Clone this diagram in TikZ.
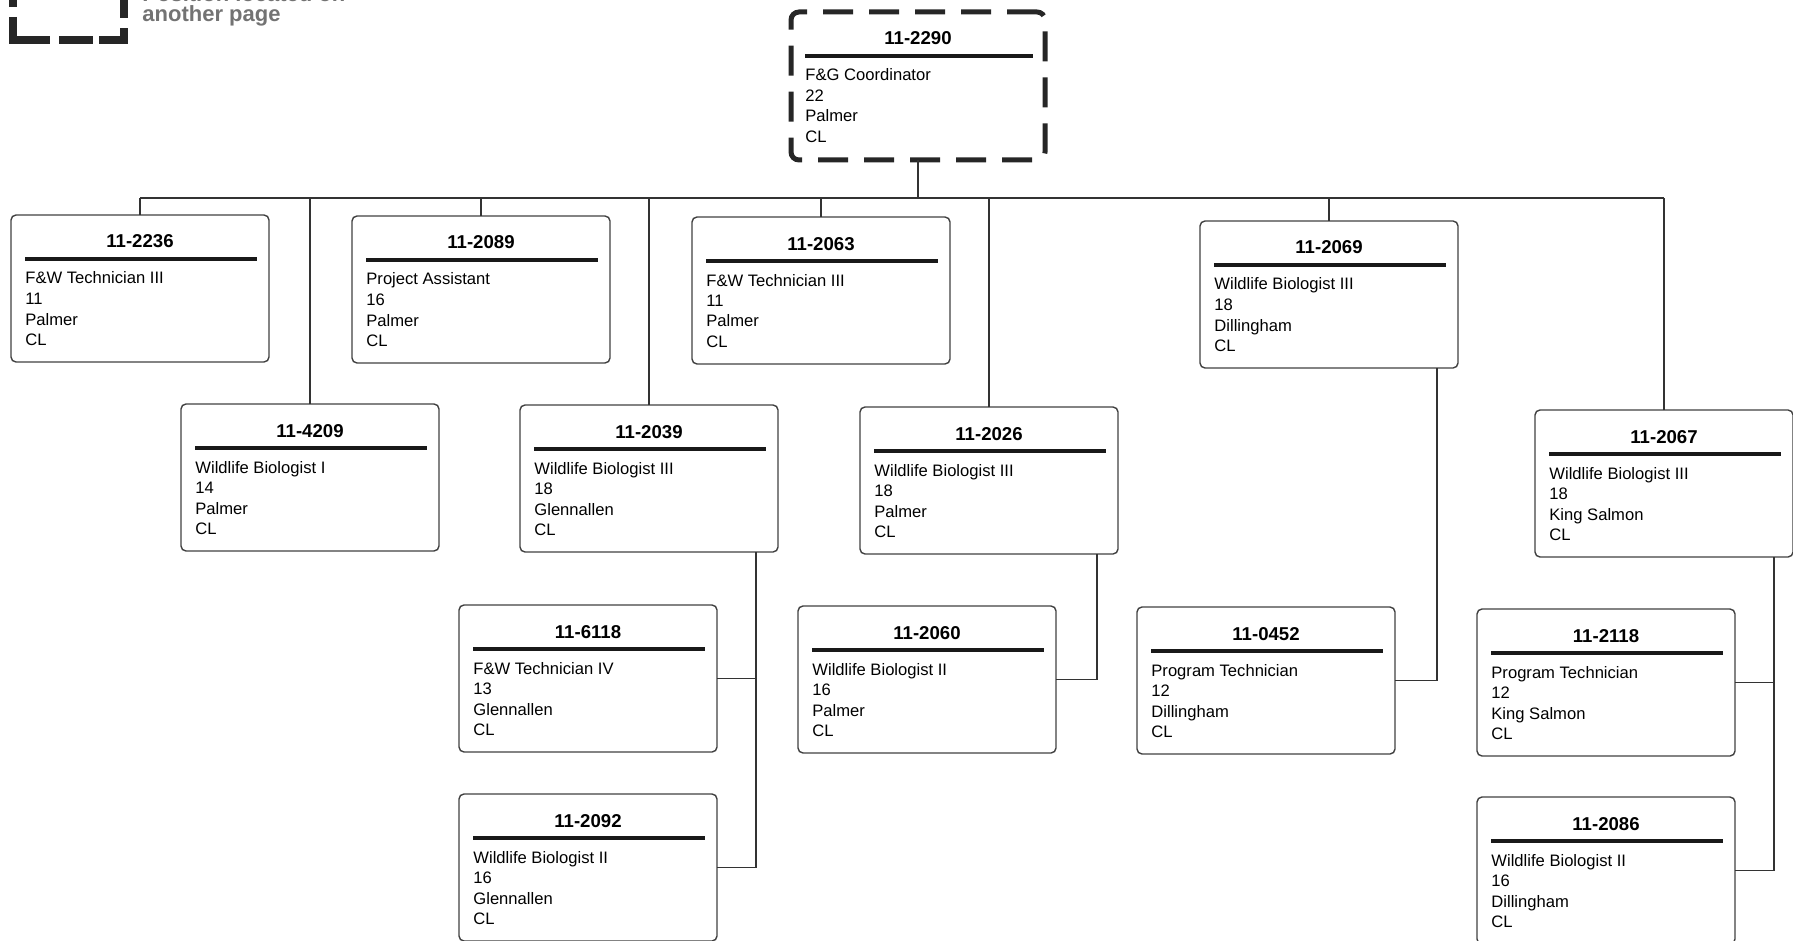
\documentclass[tikz,border=0pt]{standalone}
\usepackage{fontspec}
\setmainfont{Liberation Sans}
\usetikzlibrary{calc}

\tikzset{
  posbox/.style={draw=black!75, line width=0.7pt, rounded corners=2.5pt,
    minimum width=129pt, minimum height=73.5pt, inner sep=0pt, outer sep=0pt,
    anchor=north west},
  headbox/.style={posbox, draw=black!85, line width=2.5pt, rounded corners=4pt,
    dash pattern=on 15pt off 8pt, minimum width=127pt, minimum height=74pt},
  posnum/.style={anchor=base, inner sep=0pt, font=\fontsize{9.3}{11}\selectfont\bfseries},
  postxt/.style={anchor=base west, inner sep=0pt, font=\fontsize{8.3}{10}\selectfont},
  posrule/.style={line width=1.75pt, black!90},
  link/.style={line width=0.75pt, black!80},
  legendbox/.style={line width=4pt, black!85},
  legendtxt/.style={anchor=base west, inner sep=0pt, text=black!55,
    font=\fontsize{11}{13}\selectfont\bfseries}
}

% one position: [frame style] name, left, top, number, title, range, location
\newcommand{\jobpos}[8][posbox]{%
  \node[#1] (#2) at (#3,#4) {};
  \node[posnum] at ($(#2.north)+(0,33)$) {#5};
  \draw[posrule] ($(#2.north west)+(14,44)$) -- ($(#2.north east)+(-12,44)$);
  \node[postxt] at ($(#2.north west)+(14,69)$) {#6};
  \node[postxt] at ($(#2.north west)+(14,89.5)$) {#7};
  \node[postxt] at ($(#2.north west)+(14,110)$) {#8};
  \node[postxt] at ($(#2.north west)+(14,130.5)$) {CL};
}

\begin{document}
\begin{tikzpicture}[x=0.5pt,y=-0.5pt]
  \useasboundingbox (0,0) rectangle (1793,941);
  \clip (0,0) rectangle (1793,941);

  % legend (cut off by the page top)
  \draw[legendbox] (13,-10) -- (13,7) (13,17) -- (13,40) -- (50,40)
    (59,40) -- (93,40) (99,40) -- (124,40) -- (124,28) (124,-10) -- (124,18);
  \node[legendtxt] at (142,2) {Position located on};
  \node[legendtxt] at (142,22) {another page};

  \jobpos[headbox]{p2290}{791}{12}{11-2290}{F\&G Coordinator}{22}{Palmer}

  % first level
  \jobpos{p2236}{11}{215}{11-2236}{F\&W Technician III}{11}{Palmer}
  \jobpos{p2089}{352}{216}{11-2089}{Project Assistant}{16}{Palmer}
  \jobpos{p2063}{692}{217}{11-2063}{F\&W Technician III}{11}{Palmer}
  \jobpos{p2069}{1200}{221}{11-2069}{Wildlife Biologist III}{18}{Dillingham}
  \jobpos{p4209}{181}{404}{11-4209}{Wildlife Biologist I}{14}{Palmer}
  \jobpos{p2039}{520}{405}{11-2039}{Wildlife Biologist III}{18}{Glennallen}
  \jobpos{p2026}{860}{407}{11-2026}{Wildlife Biologist III}{18}{Palmer}
  \jobpos{p2067}{1535}{410}{11-2067}{Wildlife Biologist III}{18}{King Salmon}

  % second level
  \jobpos{p6118}{459}{605}{11-6118}{F\&W Technician IV}{13}{Glennallen}
  \jobpos{p2092}{459}{794}{11-2092}{Wildlife Biologist II}{16}{Glennallen}
  \jobpos{p2060}{798}{606}{11-2060}{Wildlife Biologist II}{16}{Palmer}
  \jobpos{p0452}{1137}{607}{11-0452}{Program Technician}{12}{Dillingham}
  \jobpos{p2118}{1477}{609}{11-2118}{Program Technician}{12}{King Salmon}
  \jobpos{p2086}{1477}{797}{11-2086}{Wildlife Biologist II}{16}{Dillingham}

  % connectors
  \coordinate (bus) at (916,198);
  \draw[link] (p2290.south) -- (p2290.south |- bus);
  \draw[link] (p2236.north |- bus) -- (p2067.north |- bus);
  \foreach \n in {p2236,p4209,p2089,p2039,p2063,p2026,p2069,p2067}
    \draw[link] (\n.north) -- (\n.north |- bus);

  \coordinate (r2039) at ($(p2039.south east)+(-22,0)$);
  \coordinate (r2026) at ($(p2026.south east)+(-21,0)$);
  \coordinate (r2069) at ($(p2069.south east)+(-21,0)$);
  \coordinate (r2067) at ($(p2067.south east)+(-19,0)$);
  \draw[link] (r2039) |- (p6118.east);
  \draw[link] (r2039) |- (p2092.east);
  \draw[link] (r2026) |- (p2060.east);
  \draw[link] (r2069) |- (p0452.east);
  \draw[link] (r2067) |- (p2118.east);
  \draw[link] (r2067) |- (p2086.east);
\end{tikzpicture}
\end{document}
